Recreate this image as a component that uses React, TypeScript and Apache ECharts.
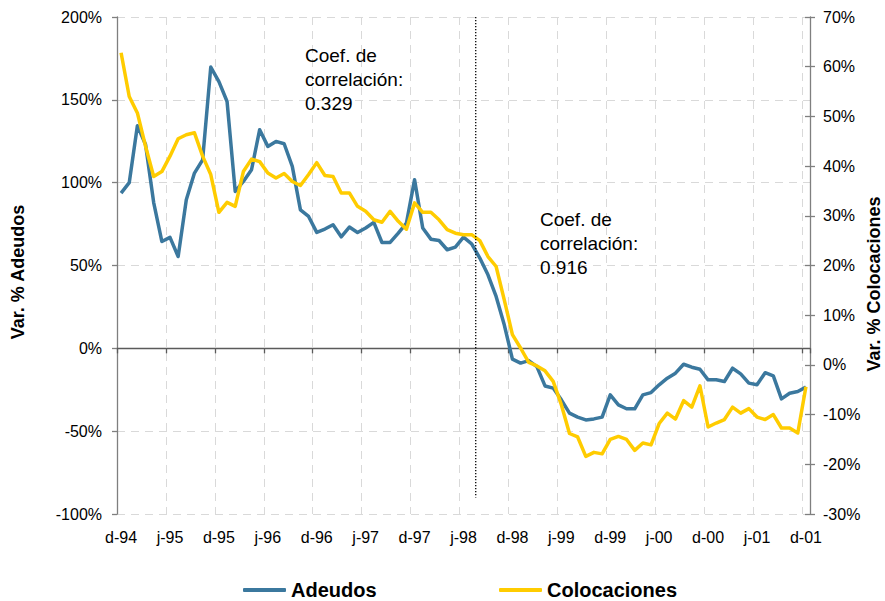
import React, { useEffect, useRef } from "react";
import * as echarts from "echarts";

// ---- Data ----
const MONTH_INITIALS = ["e", "f", "m", "a", "m", "j", "j", "a", "s", "o", "n", "d"];
const START_YEAR = 1994;
const START_MONTH = 11; // December
const N_MONTHS = 85; // d-94 .. d-01

const categories: string[] = Array.from({ length: N_MONTHS }, (_, i) => {
  const m = (START_MONTH + i) % 12;
  const y = START_YEAR + Math.floor((START_MONTH + i) / 12);
  return `${MONTH_INITIALS[m]}-${String(y % 100).padStart(2, "0")}`;
});

// Var. % Adeudos (left axis)
const adeudos: number[] = [
  93.7, 100, 134.4, 123, 88, 64.5, 67, 55.4, 89.7, 105.8, 113.8, 169.8,
  161, 149, 94.7, 100.7, 107.8, 132, 121.9, 124.9, 123.5, 109.8, 83.6, 79.6,
  70, 72, 74.6, 67.3, 73.2, 69.9, 72.6, 76, 63.9, 63.9, 69.6, 75.6,
  101.8, 72.6, 65.9, 65.1, 59.5, 61.1, 67.1, 63.1, 54.5, 44.4, 31.3, 14.2,
  -6.5, -8.9, -7.4, -11, -22.7, -24, -31.1, -39.1, -41.5, -43.2, -42.6, -41.5,
  -28.1, -34.1, -36.5, -36.5, -28.1, -26.7, -22, -18, -15, -9.6, -11.4, -12.6,
  -19, -19, -20, -12, -15.4, -21, -22, -14.7, -16.6, -30.5, -27.1, -26.1,
  -23.4,
];

// Var. % Colocaciones (right axis)
const colocaciones: number[] = [
  62.8, 54, 50.7, 44, 37.9, 38.9, 42, 45.5, 46.3, 46.7, 42, 38.3,
  30.7, 32.7, 31.9, 38.9, 41.4, 40.9, 38.6, 37.6, 38.5, 36.9, 36.1, 38.3,
  40.7, 38.1, 37.9, 34.6, 34.6, 31.9, 30.9, 29.2, 28.7, 30.9, 28.9, 27.3,
  32.6, 30.7, 30.7, 29.2, 27.2, 26.5, 26.2, 26.2, 25, 21.8, 19.8, 13.1,
  6.1, 3.4, 0.5, -0.2, -1.2, -3.3, -8, -13.8, -14.5, -18.4, -17.6, -17.9,
  -15, -14.4, -15, -17.2, -15.7, -16.1, -11.8, -9.7, -10.9, -7.2, -8.5, -4.2,
  -12.5, -11.7, -11, -8.5, -9.7, -8.8, -10.5, -11, -10, -12.7, -12.7, -13.7,
  -4.4,
];

const LEFT_AXIS = { min: -100, max: 200, interval: 50 };
const RIGHT_AXIS = { min: -30, max: 70, interval: 10 };

const SPLIT_INDEX = 43; // dotted separator between jul-98 and ago-98
const SPLIT_BOTTOM_VALUE = -90;

const ANNOTATIONS = [
  { text: "Coef. de\ncorrelación:\n0.329", x: 305, y: 43 },
  { text: "Coef. de\ncorrelación:\n0.916", x: 540, y: 207 },
];

const SERIES_NAMES = ["Adeudos", "Colocaciones"];
const BLUE = "#3B789E";
const YELLOW = "#FFCC00";
const FONT = "'Liberation Sans', Arial, Helvetica, sans-serif";

export default function App() {
  const ref = useRef<HTMLDivElement>(null);

  useEffect(() => {
    if (!ref.current) return;
    const chart = echarts.init(ref.current, undefined, { renderer: "svg" });

    const gridLine = { color: "#d9d9d9", width: 1, type: [8, 6] as any };
    const axisColor = "#7f7f7f";

    const legendBase = {
      orient: "horizontal" as const,
      top: 580,
      padding: 0,
      icon: "roundRect",
      itemWidth: 43,
      itemHeight: 4,
      textStyle: { fontSize: 20, fontWeight: "bold" as const, color: "#000", fontFamily: FONT },
    };

    const option: any = {
      animation: false,
      backgroundColor: "#fff",
      grid: { left: 117, right: 75, top: 17, bottom: 87, containLabel: false },
      legend: [
        { ...legendBase, data: [SERIES_NAMES[0]], left: 243 },
        { ...legendBase, data: [SERIES_NAMES[1]], left: 499 },
      ],
      xAxis: [
        {
          type: "category",
          position: "bottom",
          data: categories,
          boundaryGap: true,
          axisLine: { show: false, onZero: false },
          axisTick: { show: false },
          axisLabel: {
            interval: 5,
            margin: 15,
            fontSize: 16,
            color: "#000",
            fontFamily: FONT,
          },
          splitLine: { show: true, interval: 5, lineStyle: gridLine },
        },
        {
          type: "category",
          position: "top",
          data: categories,
          boundaryGap: true,
          axisLine: { show: true, onZero: true, onZeroAxisIndex: 0, lineStyle: { color: "#5a5a5a", width: 1.3 } },
          axisTick: { show: true, inside: true, interval: 5, length: 5, lineStyle: { color: "#5a5a5a", width: 1.3 } },
          axisLabel: { show: false },
          splitLine: { show: false },
        },
      ],
      yAxis: [
        {
          type: "value",
          position: "left",
          ...LEFT_AXIS,
          axisLine: { show: true, lineStyle: { color: axisColor, width: 1.3 } },
          axisTick: { show: true, length: 5, lineStyle: { color: axisColor, width: 1.3 } },
          axisLabel: { formatter: "{value}%", margin: 15, fontSize: 16, color: "#000", fontFamily: FONT },
          splitLine: { show: true, lineStyle: gridLine },
        },
        {
          type: "value",
          position: "right",
          ...RIGHT_AXIS,
          axisLine: { show: true, lineStyle: { color: axisColor, width: 1.3 } },
          axisTick: { show: true, length: 5, lineStyle: { color: axisColor, width: 1.3 } },
          axisLabel: { formatter: "{value}%", margin: 13, fontSize: 16, color: "#000", fontFamily: FONT },
          splitLine: { show: false },
        },
        {
          type: "value",
          position: "right",
          ...RIGHT_AXIS,
          axisLine: { show: false },
          axisTick: { show: true, inside: true, length: 5, lineStyle: { color: axisColor, width: 1.3 } },
          axisLabel: { show: false },
          splitLine: { show: false },
        },
      ],
      series: [
        {
          name: SERIES_NAMES[0],
          type: "line",
          xAxisIndex: 0,
          yAxisIndex: 0,
          data: adeudos,
          symbol: "none",
          lineStyle: { color: BLUE, width: 3.5, join: "round" },
          itemStyle: { color: BLUE },
          z: 3,
        },
        {
          name: SERIES_NAMES[1],
          type: "line",
          xAxisIndex: 0,
          yAxisIndex: 1,
          data: colocaciones,
          symbol: "none",
          lineStyle: { color: YELLOW, width: 3.5, join: "round" },
          itemStyle: { color: YELLOW },
          z: 4,
        },
      ],
    };

    chart.setOption(option);

    const xa = chart.convertToPixel({ xAxisIndex: 0 }, SPLIT_INDEX) as number;
    const xb = chart.convertToPixel({ xAxisIndex: 0 }, SPLIT_INDEX + 1) as number;
    const yTop = chart.convertToPixel({ yAxisIndex: 0 }, LEFT_AXIS.max) as number;
    const yBot = chart.convertToPixel({ yAxisIndex: 0 }, SPLIT_BOTTOM_VALUE) as number;
    const xs = (xa + xb) / 2;

    const graphics: any[] = [
      {
        type: "line",
        shape: { x1: xs, y1: yTop, x2: xs, y2: yBot },
        style: { stroke: "#000", lineWidth: 1.3, lineDash: [1.3, 1.7] },
        z: 10,
      },
      ...ANNOTATIONS.map((a) => ({
        type: "text",
        x: a.x,
        y: a.y,
        style: {
          text: a.text,
          fill: "#000",
          fontSize: 19,
          fontFamily: FONT,
          lineHeight: 24,
          align: "left",
          verticalAlign: "top",
        },
        z: 10,
      })),
      {
        type: "text",
        x: 18,
        y: 272,
        rotation: Math.PI / 2,
        style: {
          text: "Var. % Adeudos",
          fill: "#000",
          fontSize: 18,
          fontWeight: "bold",
          fontFamily: FONT,
          align: "center",
          verticalAlign: "middle",
        },
      },
      {
        type: "text",
        x: 874,
        y: 284,
        rotation: Math.PI / 2,
        style: {
          text: "Var. % Colocaciones",
          fill: "#000",
          fontSize: 18,
          fontWeight: "bold",
          fontFamily: FONT,
          align: "center",
          verticalAlign: "middle",
        },
      },
    ];

    chart.setOption({ graphic: graphics });

    return () => {
      chart.dispose();
    };
  }, []);

  return (
    <div
      ref={ref}
      style={{ position: "fixed", left: 0, top: 0, width: 885, height: 601, background: "#fff" }}
    />
  );
}
